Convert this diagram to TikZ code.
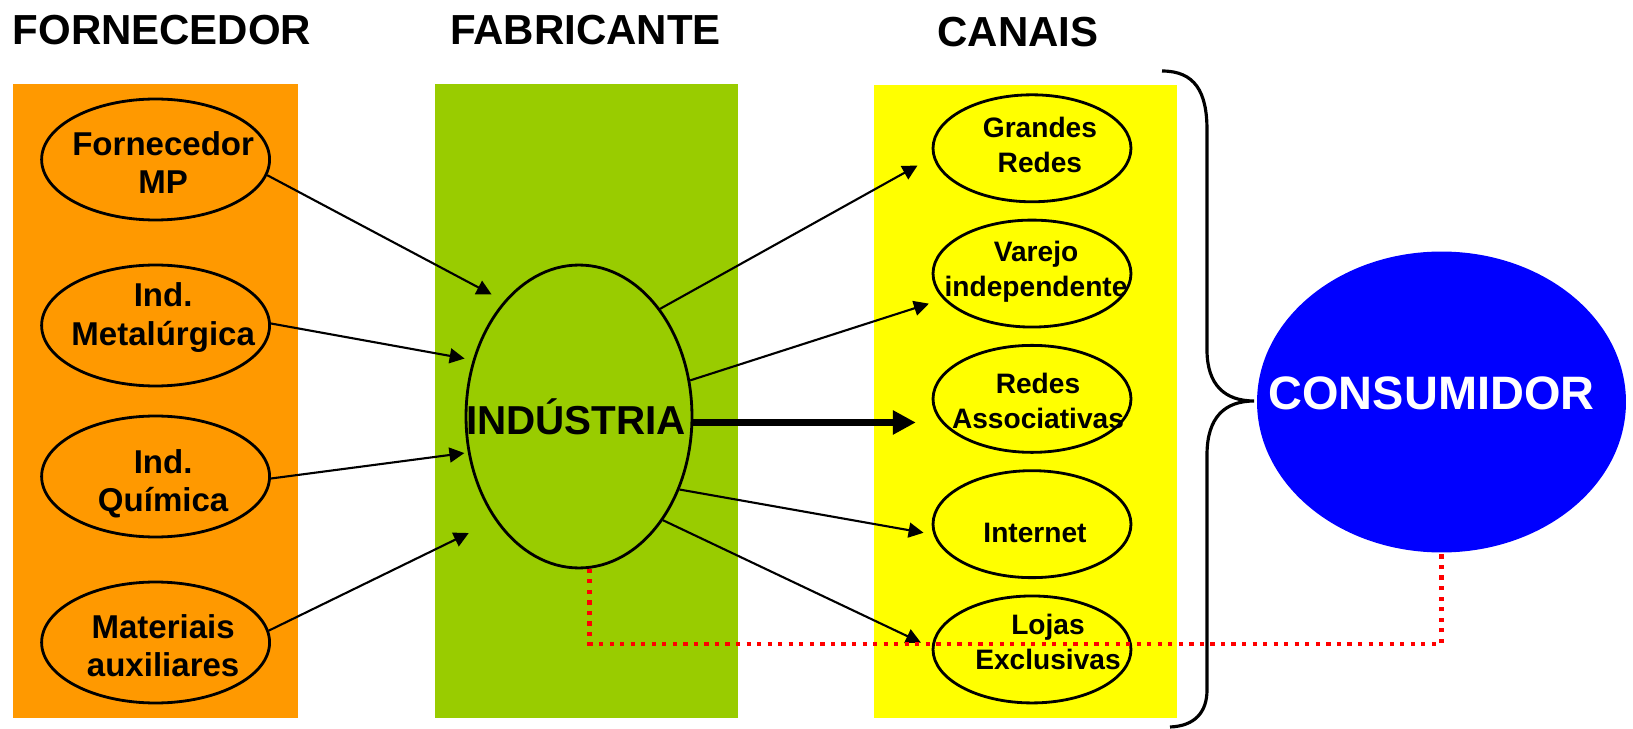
\documentclass[tikz,border=0pt]{standalone}
\usepackage{fontspec}
\setmainfont{Liberation Sans}
\usetikzlibrary{arrows.meta,positioning,shapes.geometric}
\definecolor{fornOrange}{RGB}{255,153,0}
\definecolor{fabrGreen}{RGB}{153,204,0}
\definecolor{canYellow}{RGB}{255,255,0}
\definecolor{consBlue}{RGB}{0,0,255}
\begin{document}
\begin{tikzpicture}[
    x=0.02cm, y=-0.02cm,
    >=Latex,
    % columns, titles and bubbles (one unit = one pixel of the sketch)
    col/.style={inner sep=0pt, minimum height=12.68cm, minimum width=#1},
    title/.style={anchor=base, inner sep=0pt, font=\bfseries\fontsize{23.9}{28}\selectfont},
    srcell/.style={ellipse, draw=black, line width=1.6pt, fill=fornOrange, inner sep=0pt, minimum width=4.56cm, minimum height=2.42cm},
    chanell/.style={ellipse, draw=black, line width=1.6pt, fill=canYellow, inner sep=0pt, minimum width=3.96cm, minimum height=2.14cm},
    srctxt/.style={align=center, font=\bfseries\fontsize{18.8}{21.8}\selectfont},
    chantxt/.style={align=center, font=\bfseries\fontsize{16}{19.9}\selectfont},
    link/.style={-{Triangle[length=8.5pt,width=8.5pt]}, line width=1.2pt},
    bigarrow/.style={-{Triangle[length=13pt,width=13pt]}, line width=4.3pt},
    dotline/.style={draw=red, line width=2.5pt, dash pattern=on 2.4pt off 3.6pt}
  ]
  \useasboundingbox (0,0) rectangle (1633,729);

  % background columns
  \node[col=5.7cm, fill=fornOrange] (forncol) at (155.5,401) {};
  \node[col=6.06cm, fill=fabrGreen] (fabrcol) at (586.5,401) {};
  \node[col=6.06cm, fill=canYellow] (cancol) at (1025.5,401.5) {};

  \node[title] (tforn) at (162,45) {FORNECEDOR};
  \node[title] (tfabr) at (585.5,45) {FABRICANTE};
  \node[title] (tcan) at (1018,47) {CANAIS};

  % suppliers
  \node[srcell, label={[srctxt, xshift=4.3pt, yshift=-1.7pt]center:{Fornecedor\\MP}}] (fmp) at (155.6,159.5) {};
  \node[srcell, label={[srctxt, xshift=4.3pt, yshift=4.5pt]center:{Ind.\\Metalúrgica}}] (met) at (155.6,325.5) {};
  \node[srcell, label={[srctxt, xshift=4.3pt, yshift=-4pt]center:{Ind.\\Química}}] (qui) at (155.6,476.5) {};
  \node[srcell, label={[srctxt, xshift=4.3pt, yshift=-1.9pt]center:{Materiais\\auxiliares}}] (mat) at (155.6,642.5) {};

  % manufacturer
  \node[ellipse, draw=black, line width=1.6pt, fill=fabrGreen, inner sep=0pt, minimum width=4.52cm, minimum height=6.06cm,
    label={[font=\bfseries\fontsize{23}{27}\selectfont, xshift=-1.7pt]center:INDÚSTRIA}] (ind) at (579,416.5) {};

  % channels
  \node[chanell, label={[chantxt, xshift=4.5pt, yshift=1.7pt]center:{Grandes\\Redes}}] (gr) at (1032,148.3) {};
  \node[chanell, below=0.31cm of gr, label={[chantxt, xshift=2.3pt, yshift=0.8pt]center:{Varejo\\independente}}] (var) {};
  \node[chanell, below=0.31cm of var, label={[chantxt, xshift=3.4pt, yshift=-1.4pt]center:{Redes\\Associativas}}] (ra) {};
  \node[chanell, below=0.31cm of ra, label={[chantxt, xshift=1.7pt, yshift=-4.8pt]center:Internet}] (int) {};
  \node[chanell, below=0.31cm of int, label={[chantxt, xshift=9.1pt, yshift=4.4pt]center:{Lojas\\Exclusivas}}] (lj) {};

  % consumer
  \node[ellipse, fill=consBlue, inner sep=0pt, minimum width=7.38cm, minimum height=6.02cm,
    label={[text=white, font=\bfseries\fontsize{26.7}{31}\selectfont, xshift=-5.7pt, yshift=5pt]center:CONSUMIDOR}] (cons) at (1441.5,402) {};

  % flows
  \draw[link, shorten >=8pt] (fmp.-8) -- (ind.123);
  \draw[link, shorten >=4.7pt] (met.1) -- (ind.152);
  \draw[link, shorten >=2pt] (qui.-1) -- (ind.-162);
  \draw[link, shorten >=16.6pt] (mat.6) -- (ind.-129);

  \draw[link, shorten >=10pt] (ind.53) -- (gr.185);
  \draw[link, shorten >=8.5pt] (ind.18) -- (var.196);
  \draw[bigarrow, shorten >=9pt] (ind.-3) -- (ind.-3 -| ra.west);
  \draw[link, shorten >=5.7pt] (ind.-36) -- (int.186);
  \draw[link, shorten >=6.8pt] (ind.-51) -- (lj.179);

  \draw[dotline] (ind.-86) -- ++(0,75) -| (cons.south);

  % brace in front of the consumer
  \draw[line width=1.8pt] (1162,71) .. controls (1195,71) and (1207,92) .. (1207,130) -- (1207,350)
    .. controls (1207,385) and (1225,401) .. (1254,401)
    .. controls (1225,401) and (1207,417) .. (1207,455) -- (1207,690)
    .. controls (1207,712) and (1195,726) .. (1170,727);
\end{tikzpicture}
\end{document}
